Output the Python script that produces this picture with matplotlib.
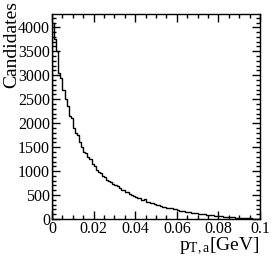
import numpy as np
import matplotlib
matplotlib.use("Agg")
import matplotlib.pyplot as plt
from matplotlib.ticker import MultipleLocator

# histogram: 100 bins from 0 to 0.1 GeV
bin_lo = 0.0
bin_hi = 0.1
counts = [
    4100, 3750, 3500, 3050, 2950, 2700, 2500, 2350, 2150, 2100,
    1900, 1800, 1750, 1600, 1500, 1400, 1380, 1300, 1250, 1150,
    1100, 1020, 990, 960, 900, 880, 820, 800, 770, 730,
    700, 680, 650, 610, 600, 560, 555, 530, 510, 480,
    465, 445, 430, 400, 410, 365, 355, 340, 325, 310,
    300, 285, 270, 255, 250, 240, 225, 220, 205, 200,
    190, 175, 175, 165, 155, 150, 140, 135, 125, 120,
    115, 105, 100, 95, 90, 85, 80, 75, 70, 65,
    60, 57, 52, 48, 45, 40, 37, 33, 30, 27,
    25, 22, 20, 17, 15, 12, 10, 8, 6, 5,
]
xticks = [0, 0.02, 0.04, 0.06, 0.08, 0.1]
xticklabels = ['0', '0.02', '0.04', '0.06', '0.08', '0.1']

plt.rcParams['font.family'] = ['Liberation Serif', 'DejaVu Serif']
plt.rcParams['mathtext.fontset'] = 'custom'
plt.rcParams['mathtext.rm'] = 'Liberation Serif'
plt.rcParams['mathtext.it'] = 'Liberation Serif'

fig = plt.figure(figsize=(2.74, 2.62), dpi=100)
ax = fig.add_axes([0.19, 0.164, 0.759, 0.783])

edges = np.linspace(bin_lo, bin_hi, len(counts) + 1)
ax.stairs(counts, edges, color='black', linewidth=1.0)

ax.set_xlim(0, 0.1)
ax.set_ylim(0, 4280)
ax.set_xticks(xticks)
ax.set_xticklabels(xticklabels)
ax.xaxis.set_minor_locator(MultipleLocator(0.005))
ax.yaxis.set_major_locator(MultipleLocator(500))
ax.yaxis.set_minor_locator(MultipleLocator(100))

ax.tick_params(which='both', direction='in', top=True, right=True,
               labelsize=11.5, width=1.0)
ax.tick_params(which='major', length=6, pad=1.5)
ax.tick_params(which='minor', length=3)
for s in ax.spines.values():
    s.set_linewidth(1.0)

ax.set_ylabel('Candidates', fontsize=14, loc='top')
ax.yaxis.set_label_coords(-0.155, 1.065)
ax.set_xlabel(r'p$_{\mathrm{T,a}}$[GeV]', fontsize=14, loc='right', labelpad=-1)

fig.savefig('out.png', dpi=100)
